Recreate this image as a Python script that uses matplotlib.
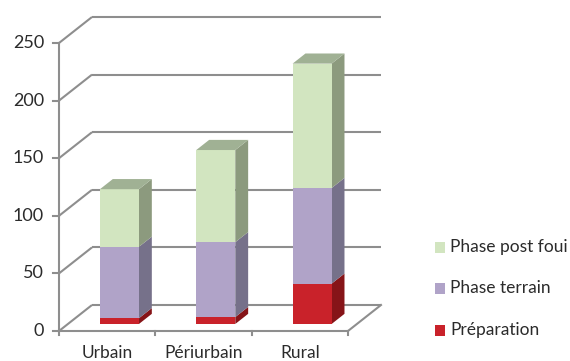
import matplotlib
matplotlib.use("Agg")
import matplotlib.pyplot as plt
from matplotlib.patches import Polygon, Rectangle

plt.rcParams['font.family'] = ['Lato', 'DejaVu Sans']

# --- data ---
categories = ["Urbain", "Périurbain", "Rural"]
series_names = ["Préparation", "Phase terrain", "Phase post foui"]
preparation = [5, 6, 35]
terrain = [62, 65, 83]
post_fouille = [50, 80, 108]
yticks = [0, 50, 100, 150, 200, 250]

front_colors = ["#c9222a", "#b0a3c8", "#d2e5c0"]
side_colors = ["#861418", "#76718a", "#8c9a7e"]
top_colors = ["#a51c22", "#8e86a3", "#a0b194"]
grid_color = "#8e8e8e"
text_color = "#2b2b2b"

# --- figure / projection setup (oblique 3D look) ---
W, H, DPI = 570, 361, 100
fig = plt.figure(figsize=(W / DPI, H / DPI), dpi=DPI)
ax = fig.add_axes([0, 0, 1, 1])
ax.set_axis_off()

px_x = 96.33        # pixels per category unit
px_y = 1.152        # pixels per value unit
x_axis_px = 59      # front axis position (pixels from left)
y_zero_px = 30      # zero line (pixels from bottom)
x_left = -0.5 - x_axis_px / px_x
ax.set_xlim(x_left, x_left + W / px_x)
ax.set_ylim(-y_zero_px / px_y, (H - y_zero_px) / px_y)

depth_dx = 33 / px_x   # full depth offset of the back wall
depth_dy = 26 / px_y


def proj(x, v, d):
    return (x + d * depth_dx, v + d * depth_dy)


n = len(categories)
x0, x1 = -0.5, n - 0.5
lw = 1.5

# walls: side-wall diagonals and back-wall lines
for v in yticks:
    ax.plot(*zip(proj(x0, v, 0), proj(x0, v, 1)), color=grid_color, lw=lw, zorder=1,
            solid_capstyle='butt')
    ax.plot(*zip(proj(x0, v, 1), proj(x1, v, 1)), color=grid_color, lw=lw, zorder=1,
            solid_capstyle='butt')
# floor right edge
ax.plot(*zip(proj(x1, 0, 0), proj(x1, 0, 1)), color=grid_color, lw=lw, zorder=1)

# front value axis
ax.plot([x0, x0], [0, yticks[-1]], color=grid_color, lw=lw, zorder=5)
tick_len_x = 6 / px_x
for v in yticks:
    ax.plot([x0 - tick_len_x, x0], [v, v], color=grid_color, lw=lw, zorder=5)
    ax.text(x0 - 15 / px_x, v, str(v), ha='right', va='center', fontsize=13,
            color=text_color)

# front category axis
ax.plot([x0, x1], [0, 0], color=grid_color, lw=lw, zorder=5)
for b in range(n + 1):
    ax.plot([x0 + b, x0 + b], [0, -4 / px_y], color=grid_color, lw=lw, zorder=5)
for i, c in enumerate(categories):
    ax.text(i, -14 / px_y, c, ha='center', va='top', fontsize=12.5, color=text_color)

# stacked 3D bars
bar_w = 0.405
d_front, d_back = 0.27, 0.66
stacks = [preparation, terrain, post_fouille]
for i in range(n):
    xa = i - bar_w / 2 + 0.035
    xb = xa + bar_w
    bottom = 0
    for s, vals in enumerate(stacks):
        top = bottom + vals[i]
        front = [proj(xa, bottom, d_front), proj(xb, bottom, d_front),
                 proj(xb, top, d_front), proj(xa, top, d_front)]
        side = [proj(xb, bottom, d_front), proj(xb, bottom, d_back),
                proj(xb, top, d_back), proj(xb, top, d_front)]
        ax.add_patch(Polygon(side, closed=True, facecolor=side_colors[s],
                             edgecolor='none', zorder=3))
        ax.add_patch(Polygon(front, closed=True, facecolor=front_colors[s],
                             edgecolor='none', zorder=3))
        if s == len(stacks) - 1:
            lid = [proj(xa, top, d_front), proj(xb, top, d_front),
                   proj(xb, top, d_back), proj(xa, top, d_back)]
            ax.add_patch(Polygon(lid, closed=True, facecolor=top_colors[s],
                                 edgecolor='none', zorder=3))
        bottom = top

# legend (top entry = last series)
leg_rows_px = [247, 288, 330]
for row, s in zip(leg_rows_px, reversed(range(len(series_names)))):
    yf = 1 - row / H
    fig.add_artist(Rectangle((435 / W, yf - 5.5 / H), 10 / W, 11 / H,
                             transform=fig.transFigure,
                             facecolor=front_colors[s], edgecolor='none'))
    fig.text(450 / W, yf, series_names[s], ha='left', va='center',
             fontsize=12.5, color=text_color)

fig.savefig("out.png", dpi=DPI)
